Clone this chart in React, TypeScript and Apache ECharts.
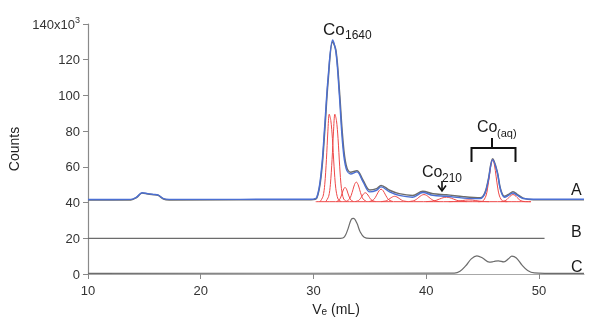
import React, { useEffect, useRef } from "react";
import * as echarts from "echarts";

// ---- Data ----
const xTicks = [10, 20, 30, 40, 50];
const yTicks = [0, 20, 40, 60, 80, 100, 120, 140];

// Trace A fit (blue)
const traceAFit: [number, number][] = [
  [10, 41.7], [13.8, 41.8], [14.3, 43], [14.8, 45.5], [15.3, 45], [15.8, 44.6], [16.2, 44.3], [16.7, 42.2], [17.2, 41.8],
  [29.8, 41.9], [30.3, 43], [30.7, 58], [31.0, 83], [31.3, 110], [31.7, 131], [32.0, 124], [32.3, 100], [32.6, 72],
  [32.9, 59], [33.3, 56], [33.85, 57.2], [34.4, 51.6], [35.0, 46], [35.6, 46.9], [36.0, 48.8], [36.75, 46], [37.6, 44],
  [38.8, 43], [39.7, 45.6], [40.6, 44], [41.8, 43.5], [43.3, 42.5], [44.8, 42.2], [45.2, 45], [45.5, 52], [45.9, 64],
  [46.3, 57], [46.6, 47], [46.95, 43], [47.3, 44], [47.7, 45.4], [48.1, 44], [48.6, 42.3], [49.5, 41.9], [54, 41.9],
];

// Trace A measured (gray)
const traceAData: [number, number][] = [
  [10, 41.4], [13.8, 41.5], [14.3, 42.8], [14.8, 45.3], [15.3, 44.8], [15.8, 44.4], [16.2, 44.1], [16.7, 42], [17.2, 41.5],
  [29.8, 41.6], [30.3, 42.6], [30.7, 56], [31.0, 80], [31.3, 108], [31.7, 130], [32.0, 125], [32.3, 103], [32.6, 76],
  [32.9, 61], [33.3, 57], [33.85, 57.8], [34.4, 52.5], [35.0, 47], [35.6, 47.8], [36.0, 49.6], [36.75, 46.9], [37.6, 45],
  [38.8, 44], [39.7, 46.4], [40.6, 44.9], [41.8, 44.4], [43.3, 43.3], [44.8, 42.7], [45.2, 45.3], [45.5, 52.5], [45.9, 64.5],
  [46.3, 57.5], [46.6, 47.5], [46.95, 43.5], [47.3, 44.6], [47.7, 46], [48.1, 44.5], [48.6, 42.5], [49.5, 41.6], [54, 41.6],
];

// Red fit components of trace A
const comp1: [number, number][] = [[30.6, 40.6], [30.85, 43.5], [31.0, 50], [31.15, 64], [31.28, 80], [31.4, 89.5], [31.54, 86], [31.68, 76], [31.83, 60], [31.98, 48], [32.18, 42], [32.45, 40.6]];
const comp2: [number, number][] = [[31.1, 40.6], [31.35, 43.5], [31.5, 50], [31.65, 64], [31.78, 80], [31.9, 89.5], [32.04, 86], [32.18, 76], [32.33, 60], [32.48, 48], [32.68, 42], [32.95, 40.6]];
const comp3: [number, number][] = [[32.05, 40.59], [32.3, 41.58], [32.43, 43.1], [32.55, 45.35], [32.68, 47.56], [32.8, 48.5], [32.93, 47.56], [33.05, 45.35], [33.18, 43.1], [33.3, 41.58], [33.55, 40.59]];
const comp4: [number, number][] = [[32.9, 40.62], [33.2, 41.99], [33.35, 44.07], [33.5, 47.17], [33.65, 50.2], [33.8, 51.5], [33.95, 50.2], [34.1, 47.17], [34.25, 44.07], [34.4, 41.99], [34.7, 40.62]];
const comp5: [number, number][] = [[33.7, 40.56], [34.0, 41.18], [34.15, 42.12], [34.3, 43.53], [34.45, 44.91], [34.6, 45.5], [34.75, 44.91], [34.9, 43.53], [35.05, 42.12], [35.2, 41.18], [35.5, 40.56]];
const comp6: [number, number][] = [[34.95, 40.58], [35.3, 41.45], [35.48, 42.77], [35.65, 44.75], [35.83, 46.68], [36.0, 47.5], [36.18, 46.68], [36.35, 44.75], [36.53, 42.77], [36.7, 41.45], [37.05, 40.58]];
const comp7: [number, number][] = [[36.0, 40.53], [36.4, 40.91], [36.6, 41.47], [36.8, 42.32], [37.0, 43.15], [37.2, 43.5], [37.4, 43.15], [37.6, 42.32], [37.8, 41.47], [38.0, 40.91], [38.4, 40.53]];
const comp8: [number, number][] = [[38.45, 40.54], [38.9, 41.04], [39.13, 41.8], [39.35, 42.93], [39.58, 44.03], [39.8, 44.5], [40.03, 44.03], [40.25, 42.93], [40.48, 41.8], [40.7, 41.04], [41.15, 40.54]];
const comp9: [number, number][] = [[40.0, 40.53], [40.6, 40.84], [40.9, 41.31], [41.2, 42.02], [41.5, 42.71], [41.8, 43.0], [42.1, 42.71], [42.4, 42.02], [42.7, 41.31], [43.0, 40.84], [43.6, 40.53]];
const comp10: [number, number][] = [[42.0, 40.51], [42.6, 40.64], [42.9, 40.82], [43.2, 41.11], [43.5, 41.38], [43.8, 41.5], [44.1, 41.38], [44.4, 41.11], [44.7, 40.82], [45.0, 40.64], [45.6, 40.51]];
const comp11: [number, number][] = [[44.6, 40.5], [45.0, 40.76], [45.3, 43.68], [45.45, 48.13], [45.6, 54.75], [45.75, 61.24], [45.9, 64], [46.05, 61.24], [46.2, 54.75], [46.35, 48.13], [46.5, 43.68], [46.8, 40.76], [47.2, 40.5]];
const comp12: [number, number][] = [[46.65, 40.54], [47.0, 41.04], [47.18, 41.8], [47.35, 42.93], [47.53, 44.03], [47.7, 44.5], [47.88, 44.03], [48.05, 42.93], [48.23, 41.8], [48.4, 41.04], [48.75, 40.54], [49.3, 40.5]];
const redBase: [number, number][] = [[30.2, 40.5], [49.3, 40.5]];
const components = [comp1, comp2, comp3, comp4, comp5, comp6, comp7, comp8, comp9, comp10, comp11, comp12, redBase];

// Trace B
const traceB: [number, number][] = [
  [10, 20], [32.4, 20], [32.75, 20.8], [33.05, 25], [33.35, 30.5], [33.55, 31.1], [33.85, 28.5], [34.15, 23.5], [34.5, 20.6], [35, 20], [50.5, 20],
];

// Trace C
const traceC: [number, number][] = [
  [10, 0.4], [42.5, 0.5], [43.0, 1.5], [43.5, 4.5], [44.0, 8.5], [44.5, 10.2], [45.0, 9], [45.6, 6.6], [46.0, 7],
  [46.4, 7.4], [46.9, 6.8], [47.3, 8.5], [47.6, 10], [48.0, 9], [48.5, 5], [49.0, 2], [49.6, 0.6], [50.5, 0.4], [54, 0.4],
];

const FONT = '"Liberation Sans", Arial, sans-serif';

export default function App() {
  const ref = useRef<HTMLDivElement>(null);
  useEffect(() => {
    if (!ref.current) return;
    const chart = echarts.init(ref.current, undefined, { renderer: "svg" });
    const lineBase = { type: "line", symbol: "none", silent: true, z: 2 } as any;
    const series: any[] = [];
    components.forEach((c) => {
      series.push({ ...lineBase, data: c, smooth: 0.3, lineStyle: { color: "#ee4848", width: 1 }, z: 3 });
    });
    series.push({ ...lineBase, data: traceAData, smooth: 0.35, lineStyle: { color: "#6c6c6c", width: 1.5 }, z: 2 });
    series.push({ ...lineBase, data: traceAFit, smooth: 0.35, lineStyle: { color: "#4b6fd3", width: 1.4 }, z: 4 });
    series.push({ ...lineBase, data: traceB, smooth: 0.35, lineStyle: { color: "#6c6c6c", width: 1.2 } });
    series.push({ ...lineBase, data: traceC, smooth: 0.35, lineStyle: { color: "#6c6c6c", width: 1.2 } });

    const t = (text: string, x: number, y: number, size: number, align = "left") => ({
      type: "text",
      x,
      y,
      silent: true,
      z: 10,
      style: { text, fontSize: size, fontFamily: FONT, fill: "#1a1a1a", align, verticalAlign: "middle" },
    });

    chart.setOption({
      animation: false,
      grid: { left: 88, right: 17, top: 24, bottom: 43, outerBoundsMode: "none", containLabel: false },
      xAxis: {
        type: "value",
        min: 10,
        max: 54,
        interval: 10,
        name: "V{s|e} (mL)",
        nameLocation: "middle",
        nameGap: 24,
        nameTextStyle: {
          fontSize: 14,
          fontFamily: FONT,
          color: "#222",
          rich: { s: { fontSize: 10, fontFamily: FONT, color: "#222", padding: [6, 0, 0, 0] } },
        },
        axisLine: { lineStyle: { color: "#a8a8a8", width: 1.2 } },
        axisTick: { show: true, length: 5, customValues: xTicks, lineStyle: { color: "#888" } },
        axisLabel: { customValues: xTicks, fontSize: 13, fontFamily: FONT, color: "#333", margin: 10 },
        splitLine: { show: false },
      },
      yAxis: {
        type: "value",
        min: 0,
        max: 140,
        interval: 20,
        name: "Counts",
        nameLocation: "middle",
        nameGap: 62,
        nameTextStyle: { fontSize: 14, fontFamily: FONT, color: "#222" },
        axisLine: { show: true, lineStyle: { color: "#8a8a8a", width: 1.2 } },
        axisTick: { show: true, length: 5, customValues: yTicks, lineStyle: { color: "#888" } },
        axisLabel: {
          customValues: yTicks,
          fontSize: 13,
          fontFamily: FONT,
          color: "#333",
          margin: 8,
          formatter: (v: number) => (v === 140 ? "140x10{s|3}" : String(v)),
          rich: { s: { fontSize: 9, fontFamily: FONT, color: "#333", padding: [0, 0, 8, 0] } },
        },
        splitLine: { show: false },
      },
      series,
      graphic: [
        t("Co", 323, 29, 17),
        t("1640", 345, 35, 12),
        t("Co", 422, 171, 16),
        t("210", 442, 178, 12),
        {
          type: "line",
          silent: true,
          shape: { x1: 442, y1: 181, x2: 442, y2: 191 },
          style: { stroke: "#111", lineWidth: 1.6 },
        },
        {
          type: "polyline",
          silent: true,
          shape: { points: [[438, 185.5], [442, 191], [446, 185.5]] },
          style: { stroke: "#111", lineWidth: 1.6, fill: "none" },
        },
        t("Co", 477, 126, 16),
        t("(aq)", 497, 133, 11),
        {
          type: "polyline",
          silent: true,
          shape: { points: [[471.5, 162], [471.5, 148], [515.5, 148], [515.5, 162]] },
          style: { stroke: "#111", lineWidth: 2, fill: "none" },
        },
        {
          type: "line",
          silent: true,
          shape: { x1: 492, y1: 148, x2: 492, y2: 138 },
          style: { stroke: "#111", lineWidth: 2 },
        },
        t("A", 571, 189, 16),
        t("B", 571, 231, 16),
        t("C", 571, 266, 16),
      ],
    });
    return () => chart.dispose();
  }, []);
  return <div ref={ref} style={{ position: "fixed", left: 0, top: 0, width: 601, height: 317 }} />;
}
